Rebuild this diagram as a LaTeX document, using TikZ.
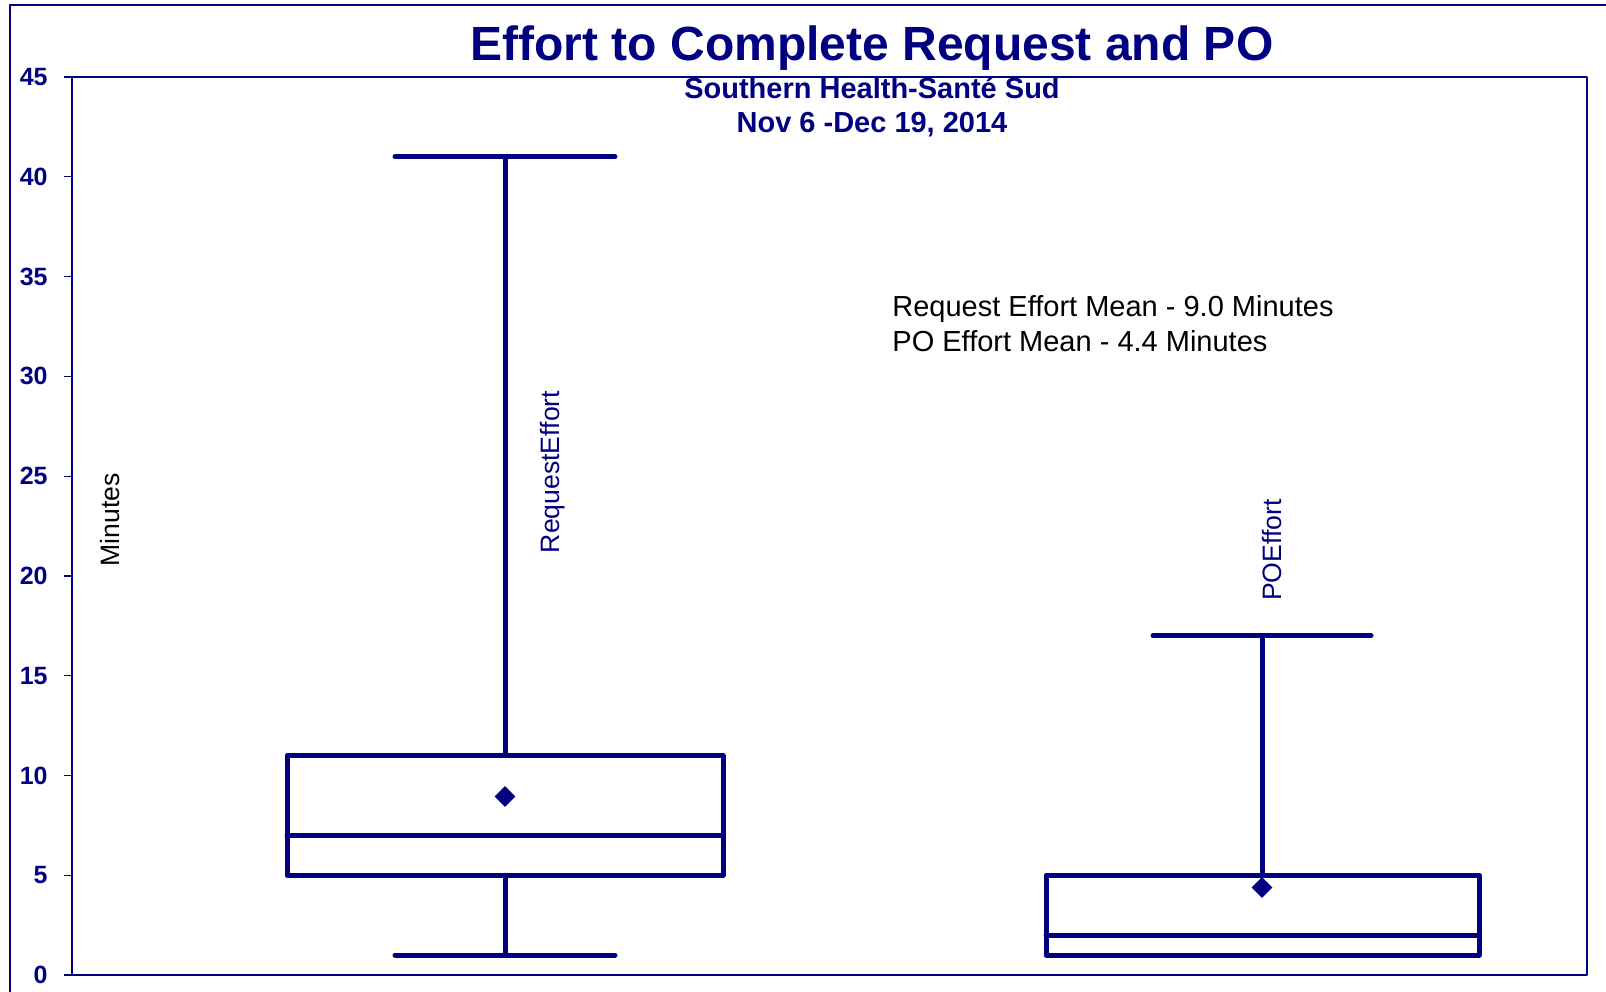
\documentclass[tikz,border=0pt]{standalone}
\usepackage{fontspec}
\setmainfont{Liberation Sans}
\usepackage{xcolor}
\usetikzlibrary{
    shapes.geometric,
    positioning,
    calc
}
\definecolor{chartnavy}{RGB}{0,0,128}

\begin{document}
\begin{tikzpicture}[x=0.5pt, y=-0.5pt, line join=round,
                box-line/.style={draw=chartnavy, line width=2.5pt, line cap=round},
                tick-label/.style={anchor=east, inner sep=0pt, text=chartnavy, font=\fontsize{12.5}{15}\selectfont\bfseries},
                series-label/.style={rotate=90, inner sep=0pt, font=\fontsize{13.3}{16}\selectfont},
                mean-mark/.style={diamond, fill=chartnavy, inner sep=0pt, minimum width=10.5pt, minimum height=10.5pt},
                note-text/.style={anchor=base west, inner sep=0pt, font=\fontsize{14.5}{18}\selectfont}]
                \useasboundingbox (0,0) rectangle (1606,991);
                \draw [chartnavy, line width=1.3pt] (10,1100) -- (10,5) -- (1700,5);
                \draw [chartnavy, line width=1pt] (72,77) rectangle (1587,975);
                \node[anchor=base, text=chartnavy, font=\fontsize{24}{29}\selectfont\bfseries] (title) at (872,60) {Effort to Complete Request and PO};
                \node[anchor=base, text=chartnavy, font=\fontsize{14.5}{18}\selectfont\bfseries] (subtitle) at (872,98) {Southern Health-Santé Sud};
                \node[anchor=base, text=chartnavy, font=\fontsize{14.5}{18}\selectfont\bfseries] (dates) at (872,132) {Nov 6 -Dec 19, 2014};
                \node[tick-label] (y0) at (48,975) {0};
                \node[tick-label] (y5) at (48,875.2) {5};
                \node[tick-label] (y10) at (48,775.4) {10};
                \node[tick-label] (y15) at (48,675.7) {15};
                \node[tick-label] (y20) at (48,575.9) {20};
                \node[tick-label] (y25) at (48,476.1) {25};
                \node[tick-label] (y30) at (48,376.3) {30};
                \node[tick-label] (y35) at (48,276.6) {35};
                \node[tick-label] (y40) at (48,176.8) {40};
                \node[tick-label] (y45) at (48,77) {45};
                \draw [chartnavy, line width=0.6pt] (64,975) -- (72,975) (64,875.2) -- (72,875.2) (64,775.4) -- (72,775.4) (64,675.7) -- (72,675.7) (64,575.9) -- (72,575.9)
                    (64,476.1) -- (72,476.1) (64,376.3) -- (72,376.3) (64,276.6) -- (72,276.6) (64,176.8) -- (72,176.8) (64,77) -- (72,77);
                \node[series-label] (minutes) at (110,520) {Minutes};
                \node[series-label, text=chartnavy] (req-label) at (553,472) {RequestEffort};
                \node[series-label, text=chartnavy] (po-label) at (1272,550) {POEffort};
                \node[note-text] (req-note) at (892,316) {Request Effort Mean - 9.0 Minutes};
                \node[note-text] (po-note) at (892,351) {PO Effort Mean - 4.4 Minutes};
                \coordinate (req-max) at (505,156.6);
                \coordinate (req-q3) at (505,755.5);
                \coordinate (req-q1) at (505,875.2);
                \coordinate (req-min) at (505,955);
                \draw [box-line] (395,156.6) -- (615,156.6);
                \draw [box-line] (req-max) -- (req-q3);
                \draw [box-line] (287,755.5) rectangle (723,875.2);
                \draw [box-line] (287,835.3) -- (723,835.3);
                \draw [box-line] (req-q1) -- (req-min);
                \draw [box-line] (395,955) -- (615,955);
                \node[mean-mark] (req-mean) at (505,796.5) {};
                \coordinate (po-max) at (1262,635.7);
                \coordinate (po-q3) at (1262,875.2);
                \draw [box-line] (1153,635.7) -- (1371,635.7);
                \draw [box-line] (po-max) -- (po-q3);
                \draw [box-line] (1046,875.2) rectangle (1479,955);
                \draw [box-line] (1046,935.1) -- (1479,935.1);
                \draw [box-line] (1153,955) -- (1371,955);
                \node[mean-mark] (po-mean) at (1262,887.5) {};
\end{tikzpicture}
\end{document}
